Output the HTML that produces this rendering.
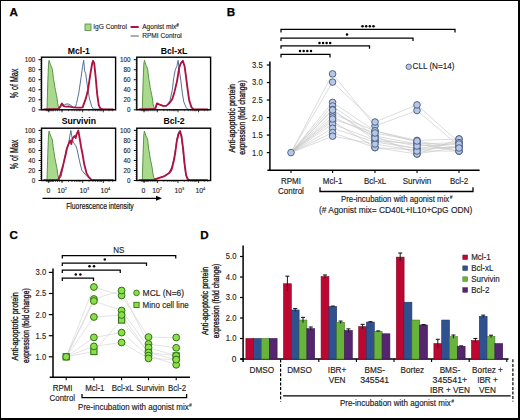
<!DOCTYPE html>
<html><head><meta charset="utf-8"><style>
html,body{margin:0;padding:0;background:#fff;}
svg{display:block;font-family:"Liberation Sans", sans-serif;}
</style></head><body>
<svg width="520" height="420" viewBox="0 0 520 420">
<rect x="0" y="0" width="520" height="420" fill="#000"/>
<rect x="1" y="1" width="517" height="417" fill="#fff"/>
<text x="9.4" y="16.1" font-size="11.6" text-anchor="start" font-weight="bold" fill="#000" stroke="#000" stroke-width="0.25" >A</text>
<text x="226.8" y="16.2" font-size="11.6" text-anchor="start" font-weight="bold" fill="#000" stroke="#000" stroke-width="0.25" >B</text>
<text x="9.5" y="239.1" font-size="11.6" text-anchor="start" font-weight="bold" fill="#000" stroke="#000" stroke-width="0.25" >C</text>
<text x="200.3" y="239.0" font-size="11.6" text-anchor="start" font-weight="bold" fill="#000" stroke="#000" stroke-width="0.25" >D</text>
<rect x="85" y="24" width="6" height="6.4" fill="#a8d98c" stroke="#4e8a3a" stroke-width="0.8"/>
<text x="93.2" y="29.4" font-size="6.6" text-anchor="start" font-weight="normal" fill="#222" stroke="#222" stroke-width="0.12" >IgG Control</text>
<line x1="130.6" y1="27" x2="138.7" y2="27" stroke="#ad1240" stroke-width="2" />
<text x="142.2" y="29.4" font-size="6.6" text-anchor="start" font-weight="normal" fill="#222" stroke="#222" stroke-width="0.12" >Agonist mix<tspan font-size="4.6" dy="-2.6" font-weight="bold">#</tspan></text>
<line x1="130.6" y1="36" x2="138.7" y2="36" stroke="#8c92a2" stroke-width="1.5" />
<text x="142.2" y="38.4" font-size="6.6" text-anchor="start" font-weight="normal" fill="#222" stroke="#222" stroke-width="0.12" >RPMI Control</text>
<path d="M47.0,109.4 L47.8,81.8 L48.5,64.3 L49.1,60.3 L49.9,62.8 L50.7,65.3 L51.5,66.8 L52.4,69.3 L53.4,78.3 L53.9,80.8 L54.9,87.4 L55.5,90.4 L56.5,95.4 L57.0,97.9 L57.7,103.4 L58.5,106.9 L59.8,109.4 Z" fill="#a8d98c" stroke="none"/>
<path d="M47.0,109.4 L47.8,81.8 L48.5,64.3 L49.1,60.3 L49.9,62.8 L50.7,65.3 L51.5,66.8 L52.4,69.3 L53.4,78.3 L53.9,80.8 L54.9,87.4 L55.5,90.4 L56.5,95.4 L57.0,97.9 L57.7,103.4 L58.5,106.9 L59.8,109.4" fill="none" stroke="#4e8a3a" stroke-width="0.9"/>
<path d="M43.5,109.4 L58.5,108.9 L60.0,106.4 L61.1,104.4 L62.5,103.9 L64.5,104.9 L66.0,104.1 L68.0,103.9 L71.1,105.4 L73.4,107.4 L75.5,106.9 L76.5,103.5 L78.8,92.9 L81.1,77.3 L82.6,66.3 L83.7,60.3 L84.6,70.8 L85.7,73.3 L87.2,84.9 L89.5,98.9 L91.8,106.6 L93.4,109.1 L113.5,109.4" fill="none" stroke="#42618f" stroke-width="0.9" stroke-linejoin="round"/>
<path d="M43.5,109.4 L58.5,108.9 L60.5,106.4 L61.8,103.4 L63.0,105.4 L64.5,106.4 L66.5,106.6 L68.5,106.4 L70.5,106.9 L73.5,107.4 L77.5,107.6 L80.5,107.6 L82.6,107.4 L85.7,98.9 L88.0,89.9 L90.3,74.3 L92.2,63.3 L93.1,60.8 L94.2,63.3 L95.7,77.3 L97.2,94.4 L98.8,105.4 L100.3,108.4 L102.5,109.4 L113.5,109.4" fill="none" stroke="#ad1240" stroke-width="1.85" stroke-linejoin="round"/>
<rect x="41.5" y="57.2" width="74.1" height="52.6" fill="none" stroke="#000" stroke-width="1.4"/>
<line x1="38.5" y1="59.699999999999996" x2="41.5" y2="59.699999999999996" stroke="#000" stroke-width="1.0" />
<line x1="40.1" y1="61.70399999999999" x2="41.5" y2="61.70399999999999" stroke="#000" stroke-width="0.5" />
<line x1="40.1" y1="63.708" x2="41.5" y2="63.708" stroke="#000" stroke-width="0.5" />
<line x1="40.1" y1="65.71199999999999" x2="41.5" y2="65.71199999999999" stroke="#000" stroke-width="0.5" />
<line x1="40.1" y1="67.716" x2="41.5" y2="67.716" stroke="#000" stroke-width="0.5" />
<text x="35.2" y="61.9" font-size="6.3" text-anchor="end" font-weight="normal" fill="#222" stroke="#222" stroke-width="0.12" >100</text>
<line x1="38.5" y1="69.72" x2="41.5" y2="69.72" stroke="#000" stroke-width="1.0" />
<line x1="40.1" y1="71.72399999999999" x2="41.5" y2="71.72399999999999" stroke="#000" stroke-width="0.5" />
<line x1="40.1" y1="73.728" x2="41.5" y2="73.728" stroke="#000" stroke-width="0.5" />
<line x1="40.1" y1="75.732" x2="41.5" y2="75.732" stroke="#000" stroke-width="0.5" />
<line x1="40.1" y1="77.73599999999999" x2="41.5" y2="77.73599999999999" stroke="#000" stroke-width="0.5" />
<text x="35.2" y="71.92" font-size="6.3" text-anchor="end" font-weight="normal" fill="#222" stroke="#222" stroke-width="0.12" >80</text>
<line x1="38.5" y1="79.74" x2="41.5" y2="79.74" stroke="#000" stroke-width="1.0" />
<line x1="40.1" y1="81.744" x2="41.5" y2="81.744" stroke="#000" stroke-width="0.5" />
<line x1="40.1" y1="83.74799999999999" x2="41.5" y2="83.74799999999999" stroke="#000" stroke-width="0.5" />
<line x1="40.1" y1="85.752" x2="41.5" y2="85.752" stroke="#000" stroke-width="0.5" />
<line x1="40.1" y1="87.756" x2="41.5" y2="87.756" stroke="#000" stroke-width="0.5" />
<text x="35.2" y="81.94" font-size="6.3" text-anchor="end" font-weight="normal" fill="#222" stroke="#222" stroke-width="0.12" >60</text>
<line x1="38.5" y1="89.75999999999999" x2="41.5" y2="89.75999999999999" stroke="#000" stroke-width="1.0" />
<line x1="40.1" y1="91.764" x2="41.5" y2="91.764" stroke="#000" stroke-width="0.5" />
<line x1="40.1" y1="93.768" x2="41.5" y2="93.768" stroke="#000" stroke-width="0.5" />
<line x1="40.1" y1="95.77199999999999" x2="41.5" y2="95.77199999999999" stroke="#000" stroke-width="0.5" />
<line x1="40.1" y1="97.776" x2="41.5" y2="97.776" stroke="#000" stroke-width="0.5" />
<text x="35.2" y="91.96" font-size="6.3" text-anchor="end" font-weight="normal" fill="#222" stroke="#222" stroke-width="0.12" >40</text>
<line x1="38.5" y1="99.78" x2="41.5" y2="99.78" stroke="#000" stroke-width="1.0" />
<line x1="40.1" y1="101.78399999999999" x2="41.5" y2="101.78399999999999" stroke="#000" stroke-width="0.5" />
<line x1="40.1" y1="103.788" x2="41.5" y2="103.788" stroke="#000" stroke-width="0.5" />
<line x1="40.1" y1="105.792" x2="41.5" y2="105.792" stroke="#000" stroke-width="0.5" />
<line x1="40.1" y1="107.79599999999999" x2="41.5" y2="107.79599999999999" stroke="#000" stroke-width="0.5" />
<text x="35.2" y="101.98" font-size="6.3" text-anchor="end" font-weight="normal" fill="#222" stroke="#222" stroke-width="0.12" >20</text>
<line x1="38.5" y1="109.8" x2="41.5" y2="109.8" stroke="#000" stroke-width="1.0" />
<text x="35.2" y="112.0" font-size="6.3" text-anchor="end" font-weight="normal" fill="#222" stroke="#222" stroke-width="0.12" >0</text>
<line x1="46.5" y1="109.8" x2="46.5" y2="111.3" stroke="#000" stroke-width="0.5" />
<line x1="47.5" y1="109.8" x2="47.5" y2="111.3" stroke="#000" stroke-width="0.5" />
<line x1="48.5" y1="109.8" x2="48.5" y2="111.3" stroke="#000" stroke-width="0.5" />
<line x1="49.5" y1="109.8" x2="49.5" y2="111.3" stroke="#000" stroke-width="0.5" />
<line x1="50.5" y1="109.8" x2="50.5" y2="111.3" stroke="#000" stroke-width="0.5" />
<line x1="51.5" y1="109.8" x2="51.5" y2="111.3" stroke="#000" stroke-width="0.5" />
<line x1="52.5" y1="109.8" x2="52.5" y2="111.3" stroke="#000" stroke-width="0.5" />
<line x1="53.5" y1="109.8" x2="53.5" y2="111.3" stroke="#000" stroke-width="0.5" />
<line x1="55.5" y1="109.8" x2="55.5" y2="111.3" stroke="#000" stroke-width="0.5" />
<line x1="57.5" y1="109.8" x2="57.5" y2="111.3" stroke="#000" stroke-width="0.5" />
<line x1="59.5" y1="109.8" x2="59.5" y2="111.3" stroke="#000" stroke-width="0.5" />
<line x1="62.0" y1="109.8" x2="62.0" y2="111.3" stroke="#000" stroke-width="0.5" />
<line x1="68.5" y1="109.8" x2="68.5" y2="111.3" stroke="#000" stroke-width="0.5" />
<line x1="72.0" y1="109.8" x2="72.0" y2="111.3" stroke="#000" stroke-width="0.5" />
<line x1="74.5" y1="109.8" x2="74.5" y2="111.3" stroke="#000" stroke-width="0.5" />
<line x1="76.5" y1="109.8" x2="76.5" y2="111.3" stroke="#000" stroke-width="0.5" />
<line x1="78.0" y1="109.8" x2="78.0" y2="111.3" stroke="#000" stroke-width="0.5" />
<line x1="79.5" y1="109.8" x2="79.5" y2="111.3" stroke="#000" stroke-width="0.5" />
<line x1="80.8" y1="109.8" x2="80.8" y2="111.3" stroke="#000" stroke-width="0.5" />
<line x1="89.0" y1="109.8" x2="89.0" y2="111.3" stroke="#000" stroke-width="0.5" />
<line x1="93.0" y1="109.8" x2="93.0" y2="111.3" stroke="#000" stroke-width="0.5" />
<line x1="95.5" y1="109.8" x2="95.5" y2="111.3" stroke="#000" stroke-width="0.5" />
<line x1="97.5" y1="109.8" x2="97.5" y2="111.3" stroke="#000" stroke-width="0.5" />
<line x1="99.0" y1="109.8" x2="99.0" y2="111.3" stroke="#000" stroke-width="0.5" />
<line x1="100.3" y1="109.8" x2="100.3" y2="111.3" stroke="#000" stroke-width="0.5" />
<line x1="101.5" y1="109.8" x2="101.5" y2="111.3" stroke="#000" stroke-width="0.5" />
<line x1="109.0" y1="109.8" x2="109.0" y2="111.3" stroke="#000" stroke-width="0.5" />
<line x1="112.5" y1="109.8" x2="112.5" y2="111.3" stroke="#000" stroke-width="0.5" />
<line x1="48.75" y1="109.8" x2="48.75" y2="112.3" stroke="#000" stroke-width="0.8" />
<line x1="62.0" y1="109.8" x2="62.0" y2="112.3" stroke="#000" stroke-width="0.8" />
<line x1="82.7" y1="109.8" x2="82.7" y2="112.3" stroke="#000" stroke-width="0.8" />
<line x1="103.3" y1="109.8" x2="103.3" y2="112.3" stroke="#000" stroke-width="0.8" />
<text x="78.85" y="53.7" font-size="8.7" text-anchor="middle" font-weight="bold" fill="#000" >Mcl-1</text>
<path d="M142.3,109.4 L143.1,81.8 L143.8,64.3 L144.4,60.3 L145.2,62.8 L146.0,65.3 L146.8,66.8 L147.7,69.3 L148.7,78.3 L149.2,80.8 L150.2,87.4 L150.8,90.4 L151.8,95.4 L152.3,97.9 L153.0,103.4 L153.8,106.9 L155.1,109.4 Z" fill="#a8d98c" stroke="none"/>
<path d="M142.3,109.4 L143.1,81.8 L143.8,64.3 L144.4,60.3 L145.2,62.8 L146.0,65.3 L146.8,66.8 L147.7,69.3 L148.7,78.3 L149.2,80.8 L150.2,87.4 L150.8,90.4 L151.8,95.4 L152.3,97.9 L153.0,103.4 L153.8,106.9 L155.1,109.4" fill="none" stroke="#4e8a3a" stroke-width="0.9"/>
<path d="M138.8,109.4 L153.8,108.9 L155.4,108.4 L156.9,103.4 L159.2,104.4 L163.1,105.9 L166.1,105.9 L167.7,104.4 L170.0,100.4 L172.3,89.9 L173.8,77.3 L175.4,69.3 L176.9,66.3 L178.1,60.3 L179.2,69.3 L180.8,80.3 L182.3,92.9 L183.8,101.9 L186.1,107.4 L187.8,109.4 L207.8,109.4" fill="none" stroke="#42618f" stroke-width="0.9" stroke-linejoin="round"/>
<path d="M138.8,109.4 L153.8,108.9 L155.4,108.4 L156.9,103.4 L159.2,104.4 L163.1,105.9 L166.1,105.9 L169.2,103.4 L172.3,98.9 L174.6,91.4 L176.9,81.8 L179.2,67.8 L180.8,63.3 L182.8,60.8 L184.6,66.3 L186.1,77.3 L187.7,89.9 L189.2,100.4 L191.5,107.4 L193.8,109.4 L207.8,109.4" fill="none" stroke="#ad1240" stroke-width="1.85" stroke-linejoin="round"/>
<rect x="136.8" y="57.2" width="73.8" height="52.6" fill="none" stroke="#000" stroke-width="1.4"/>
<line x1="133.8" y1="59.699999999999996" x2="136.8" y2="59.699999999999996" stroke="#000" stroke-width="1.0" />
<line x1="135.4" y1="61.70399999999999" x2="136.8" y2="61.70399999999999" stroke="#000" stroke-width="0.5" />
<line x1="135.4" y1="63.708" x2="136.8" y2="63.708" stroke="#000" stroke-width="0.5" />
<line x1="135.4" y1="65.71199999999999" x2="136.8" y2="65.71199999999999" stroke="#000" stroke-width="0.5" />
<line x1="135.4" y1="67.716" x2="136.8" y2="67.716" stroke="#000" stroke-width="0.5" />
<text x="130.5" y="61.9" font-size="6.3" text-anchor="end" font-weight="normal" fill="#222" stroke="#222" stroke-width="0.12" >100</text>
<line x1="133.8" y1="69.72" x2="136.8" y2="69.72" stroke="#000" stroke-width="1.0" />
<line x1="135.4" y1="71.72399999999999" x2="136.8" y2="71.72399999999999" stroke="#000" stroke-width="0.5" />
<line x1="135.4" y1="73.728" x2="136.8" y2="73.728" stroke="#000" stroke-width="0.5" />
<line x1="135.4" y1="75.732" x2="136.8" y2="75.732" stroke="#000" stroke-width="0.5" />
<line x1="135.4" y1="77.73599999999999" x2="136.8" y2="77.73599999999999" stroke="#000" stroke-width="0.5" />
<text x="130.5" y="71.92" font-size="6.3" text-anchor="end" font-weight="normal" fill="#222" stroke="#222" stroke-width="0.12" >80</text>
<line x1="133.8" y1="79.74" x2="136.8" y2="79.74" stroke="#000" stroke-width="1.0" />
<line x1="135.4" y1="81.744" x2="136.8" y2="81.744" stroke="#000" stroke-width="0.5" />
<line x1="135.4" y1="83.74799999999999" x2="136.8" y2="83.74799999999999" stroke="#000" stroke-width="0.5" />
<line x1="135.4" y1="85.752" x2="136.8" y2="85.752" stroke="#000" stroke-width="0.5" />
<line x1="135.4" y1="87.756" x2="136.8" y2="87.756" stroke="#000" stroke-width="0.5" />
<text x="130.5" y="81.94" font-size="6.3" text-anchor="end" font-weight="normal" fill="#222" stroke="#222" stroke-width="0.12" >60</text>
<line x1="133.8" y1="89.75999999999999" x2="136.8" y2="89.75999999999999" stroke="#000" stroke-width="1.0" />
<line x1="135.4" y1="91.764" x2="136.8" y2="91.764" stroke="#000" stroke-width="0.5" />
<line x1="135.4" y1="93.768" x2="136.8" y2="93.768" stroke="#000" stroke-width="0.5" />
<line x1="135.4" y1="95.77199999999999" x2="136.8" y2="95.77199999999999" stroke="#000" stroke-width="0.5" />
<line x1="135.4" y1="97.776" x2="136.8" y2="97.776" stroke="#000" stroke-width="0.5" />
<text x="130.5" y="91.96" font-size="6.3" text-anchor="end" font-weight="normal" fill="#222" stroke="#222" stroke-width="0.12" >40</text>
<line x1="133.8" y1="99.78" x2="136.8" y2="99.78" stroke="#000" stroke-width="1.0" />
<line x1="135.4" y1="101.78399999999999" x2="136.8" y2="101.78399999999999" stroke="#000" stroke-width="0.5" />
<line x1="135.4" y1="103.788" x2="136.8" y2="103.788" stroke="#000" stroke-width="0.5" />
<line x1="135.4" y1="105.792" x2="136.8" y2="105.792" stroke="#000" stroke-width="0.5" />
<line x1="135.4" y1="107.79599999999999" x2="136.8" y2="107.79599999999999" stroke="#000" stroke-width="0.5" />
<text x="130.5" y="101.98" font-size="6.3" text-anchor="end" font-weight="normal" fill="#222" stroke="#222" stroke-width="0.12" >20</text>
<line x1="133.8" y1="109.8" x2="136.8" y2="109.8" stroke="#000" stroke-width="1.0" />
<text x="130.5" y="112.0" font-size="6.3" text-anchor="end" font-weight="normal" fill="#222" stroke="#222" stroke-width="0.12" >0</text>
<line x1="141.8" y1="109.8" x2="141.8" y2="111.3" stroke="#000" stroke-width="0.5" />
<line x1="142.8" y1="109.8" x2="142.8" y2="111.3" stroke="#000" stroke-width="0.5" />
<line x1="143.8" y1="109.8" x2="143.8" y2="111.3" stroke="#000" stroke-width="0.5" />
<line x1="144.8" y1="109.8" x2="144.8" y2="111.3" stroke="#000" stroke-width="0.5" />
<line x1="145.8" y1="109.8" x2="145.8" y2="111.3" stroke="#000" stroke-width="0.5" />
<line x1="146.8" y1="109.8" x2="146.8" y2="111.3" stroke="#000" stroke-width="0.5" />
<line x1="147.8" y1="109.8" x2="147.8" y2="111.3" stroke="#000" stroke-width="0.5" />
<line x1="148.8" y1="109.8" x2="148.8" y2="111.3" stroke="#000" stroke-width="0.5" />
<line x1="150.8" y1="109.8" x2="150.8" y2="111.3" stroke="#000" stroke-width="0.5" />
<line x1="152.8" y1="109.8" x2="152.8" y2="111.3" stroke="#000" stroke-width="0.5" />
<line x1="154.8" y1="109.8" x2="154.8" y2="111.3" stroke="#000" stroke-width="0.5" />
<line x1="157.3" y1="109.8" x2="157.3" y2="111.3" stroke="#000" stroke-width="0.5" />
<line x1="163.8" y1="109.8" x2="163.8" y2="111.3" stroke="#000" stroke-width="0.5" />
<line x1="167.3" y1="109.8" x2="167.3" y2="111.3" stroke="#000" stroke-width="0.5" />
<line x1="169.8" y1="109.8" x2="169.8" y2="111.3" stroke="#000" stroke-width="0.5" />
<line x1="171.8" y1="109.8" x2="171.8" y2="111.3" stroke="#000" stroke-width="0.5" />
<line x1="173.3" y1="109.8" x2="173.3" y2="111.3" stroke="#000" stroke-width="0.5" />
<line x1="174.8" y1="109.8" x2="174.8" y2="111.3" stroke="#000" stroke-width="0.5" />
<line x1="176.10000000000002" y1="109.8" x2="176.10000000000002" y2="111.3" stroke="#000" stroke-width="0.5" />
<line x1="184.3" y1="109.8" x2="184.3" y2="111.3" stroke="#000" stroke-width="0.5" />
<line x1="188.3" y1="109.8" x2="188.3" y2="111.3" stroke="#000" stroke-width="0.5" />
<line x1="190.8" y1="109.8" x2="190.8" y2="111.3" stroke="#000" stroke-width="0.5" />
<line x1="192.8" y1="109.8" x2="192.8" y2="111.3" stroke="#000" stroke-width="0.5" />
<line x1="194.3" y1="109.8" x2="194.3" y2="111.3" stroke="#000" stroke-width="0.5" />
<line x1="195.60000000000002" y1="109.8" x2="195.60000000000002" y2="111.3" stroke="#000" stroke-width="0.5" />
<line x1="196.8" y1="109.8" x2="196.8" y2="111.3" stroke="#000" stroke-width="0.5" />
<line x1="204.3" y1="109.8" x2="204.3" y2="111.3" stroke="#000" stroke-width="0.5" />
<line x1="207.8" y1="109.8" x2="207.8" y2="111.3" stroke="#000" stroke-width="0.5" />
<line x1="144.05" y1="109.8" x2="144.05" y2="112.3" stroke="#000" stroke-width="0.8" />
<line x1="157.3" y1="109.8" x2="157.3" y2="112.3" stroke="#000" stroke-width="0.8" />
<line x1="178.0" y1="109.8" x2="178.0" y2="112.3" stroke="#000" stroke-width="0.8" />
<line x1="198.60000000000002" y1="109.8" x2="198.60000000000002" y2="112.3" stroke="#000" stroke-width="0.8" />
<text x="174.0" y="53.7" font-size="8.7" text-anchor="middle" font-weight="bold" fill="#000" >Bcl-xL</text>
<path d="M47.0,180.1 L47.8,152.5 L48.5,135.0 L49.1,131.0 L49.9,133.5 L50.7,136.0 L51.5,137.5 L52.4,140.0 L53.4,149.0 L53.9,151.5 L54.9,158.1 L55.5,161.1 L56.5,166.1 L57.0,168.6 L57.7,174.1 L58.5,177.6 L59.8,180.1 Z" fill="#a8d98c" stroke="none"/>
<path d="M47.0,180.1 L47.8,152.5 L48.5,135.0 L49.1,131.0 L49.9,133.5 L50.7,136.0 L51.5,137.5 L52.4,140.0 L53.4,149.0 L53.9,151.5 L54.9,158.1 L55.5,161.1 L56.5,166.1 L57.0,168.6 L57.7,174.1 L58.5,177.6 L59.8,180.1" fill="none" stroke="#4e8a3a" stroke-width="0.9"/>
<path d="M43.5,180.1 L57.5,180.1 L59.0,179.1 L61.1,176.6 L62.5,170.1 L64.2,159.6 L65.7,152.0 L67.2,147.0 L68.8,142.5 L69.8,136.0 L70.8,130.5 L71.8,136.0 L72.6,140.5 L74.2,143.5 L75.7,145.5 L77.2,150.0 L79.5,161.1 L81.8,170.1 L84.2,173.1 L87.2,176.6 L90.3,179.1 L92.5,180.1 L113.5,180.1" fill="none" stroke="#42618f" stroke-width="0.9" stroke-linejoin="round"/>
<path d="M43.5,180.1 L58.0,180.1 L60.3,175.1 L62.6,167.1 L64.1,161.1 L65.7,154.5 L66.8,149.0 L68.0,145.5 L69.0,143.0 L70.3,140.5 L71.3,144.0 L72.6,138.5 L73.8,137.0 L74.9,136.0 L75.7,138.0 L76.5,134.5 L77.5,132.5 L78.3,130.5 L78.9,134.0 L79.5,137.5 L80.3,142.0 L81.1,147.0 L82.6,154.5 L84.2,164.1 L86.5,173.1 L88.8,177.1 L91.8,180.1 L113.5,180.1" fill="none" stroke="#ad1240" stroke-width="1.85" stroke-linejoin="round"/>
<rect x="41.5" y="128.2" width="74.1" height="52.3" fill="none" stroke="#000" stroke-width="1.4"/>
<line x1="38.5" y1="130.4" x2="41.5" y2="130.4" stroke="#000" stroke-width="1.0" />
<line x1="40.1" y1="132.404" x2="41.5" y2="132.404" stroke="#000" stroke-width="0.5" />
<line x1="40.1" y1="134.40800000000002" x2="41.5" y2="134.40800000000002" stroke="#000" stroke-width="0.5" />
<line x1="40.1" y1="136.412" x2="41.5" y2="136.412" stroke="#000" stroke-width="0.5" />
<line x1="40.1" y1="138.416" x2="41.5" y2="138.416" stroke="#000" stroke-width="0.5" />
<text x="35.2" y="132.6" font-size="6.3" text-anchor="end" font-weight="normal" fill="#222" stroke="#222" stroke-width="0.12" >100</text>
<line x1="38.5" y1="140.42000000000002" x2="41.5" y2="140.42000000000002" stroke="#000" stroke-width="1.0" />
<line x1="40.1" y1="142.424" x2="41.5" y2="142.424" stroke="#000" stroke-width="0.5" />
<line x1="40.1" y1="144.428" x2="41.5" y2="144.428" stroke="#000" stroke-width="0.5" />
<line x1="40.1" y1="146.43200000000002" x2="41.5" y2="146.43200000000002" stroke="#000" stroke-width="0.5" />
<line x1="40.1" y1="148.436" x2="41.5" y2="148.436" stroke="#000" stroke-width="0.5" />
<text x="35.2" y="142.62" font-size="6.3" text-anchor="end" font-weight="normal" fill="#222" stroke="#222" stroke-width="0.12" >80</text>
<line x1="38.5" y1="150.44" x2="41.5" y2="150.44" stroke="#000" stroke-width="1.0" />
<line x1="40.1" y1="152.444" x2="41.5" y2="152.444" stroke="#000" stroke-width="0.5" />
<line x1="40.1" y1="154.448" x2="41.5" y2="154.448" stroke="#000" stroke-width="0.5" />
<line x1="40.1" y1="156.452" x2="41.5" y2="156.452" stroke="#000" stroke-width="0.5" />
<line x1="40.1" y1="158.456" x2="41.5" y2="158.456" stroke="#000" stroke-width="0.5" />
<text x="35.2" y="152.64" font-size="6.3" text-anchor="end" font-weight="normal" fill="#222" stroke="#222" stroke-width="0.12" >60</text>
<line x1="38.5" y1="160.46" x2="41.5" y2="160.46" stroke="#000" stroke-width="1.0" />
<line x1="40.1" y1="162.464" x2="41.5" y2="162.464" stroke="#000" stroke-width="0.5" />
<line x1="40.1" y1="164.468" x2="41.5" y2="164.468" stroke="#000" stroke-width="0.5" />
<line x1="40.1" y1="166.472" x2="41.5" y2="166.472" stroke="#000" stroke-width="0.5" />
<line x1="40.1" y1="168.476" x2="41.5" y2="168.476" stroke="#000" stroke-width="0.5" />
<text x="35.2" y="162.66" font-size="6.3" text-anchor="end" font-weight="normal" fill="#222" stroke="#222" stroke-width="0.12" >40</text>
<line x1="38.5" y1="170.48" x2="41.5" y2="170.48" stroke="#000" stroke-width="1.0" />
<line x1="40.1" y1="172.484" x2="41.5" y2="172.484" stroke="#000" stroke-width="0.5" />
<line x1="40.1" y1="174.488" x2="41.5" y2="174.488" stroke="#000" stroke-width="0.5" />
<line x1="40.1" y1="176.492" x2="41.5" y2="176.492" stroke="#000" stroke-width="0.5" />
<line x1="40.1" y1="178.496" x2="41.5" y2="178.496" stroke="#000" stroke-width="0.5" />
<text x="35.2" y="172.67999999999998" font-size="6.3" text-anchor="end" font-weight="normal" fill="#222" stroke="#222" stroke-width="0.12" >20</text>
<line x1="38.5" y1="180.5" x2="41.5" y2="180.5" stroke="#000" stroke-width="1.0" />
<text x="35.2" y="182.7" font-size="6.3" text-anchor="end" font-weight="normal" fill="#222" stroke="#222" stroke-width="0.12" >0</text>
<line x1="46.5" y1="180.5" x2="46.5" y2="182.0" stroke="#000" stroke-width="0.5" />
<line x1="47.5" y1="180.5" x2="47.5" y2="182.0" stroke="#000" stroke-width="0.5" />
<line x1="48.5" y1="180.5" x2="48.5" y2="182.0" stroke="#000" stroke-width="0.5" />
<line x1="49.5" y1="180.5" x2="49.5" y2="182.0" stroke="#000" stroke-width="0.5" />
<line x1="50.5" y1="180.5" x2="50.5" y2="182.0" stroke="#000" stroke-width="0.5" />
<line x1="51.5" y1="180.5" x2="51.5" y2="182.0" stroke="#000" stroke-width="0.5" />
<line x1="52.5" y1="180.5" x2="52.5" y2="182.0" stroke="#000" stroke-width="0.5" />
<line x1="53.5" y1="180.5" x2="53.5" y2="182.0" stroke="#000" stroke-width="0.5" />
<line x1="55.5" y1="180.5" x2="55.5" y2="182.0" stroke="#000" stroke-width="0.5" />
<line x1="57.5" y1="180.5" x2="57.5" y2="182.0" stroke="#000" stroke-width="0.5" />
<line x1="59.5" y1="180.5" x2="59.5" y2="182.0" stroke="#000" stroke-width="0.5" />
<line x1="62.0" y1="180.5" x2="62.0" y2="182.0" stroke="#000" stroke-width="0.5" />
<line x1="68.5" y1="180.5" x2="68.5" y2="182.0" stroke="#000" stroke-width="0.5" />
<line x1="72.0" y1="180.5" x2="72.0" y2="182.0" stroke="#000" stroke-width="0.5" />
<line x1="74.5" y1="180.5" x2="74.5" y2="182.0" stroke="#000" stroke-width="0.5" />
<line x1="76.5" y1="180.5" x2="76.5" y2="182.0" stroke="#000" stroke-width="0.5" />
<line x1="78.0" y1="180.5" x2="78.0" y2="182.0" stroke="#000" stroke-width="0.5" />
<line x1="79.5" y1="180.5" x2="79.5" y2="182.0" stroke="#000" stroke-width="0.5" />
<line x1="80.8" y1="180.5" x2="80.8" y2="182.0" stroke="#000" stroke-width="0.5" />
<line x1="89.0" y1="180.5" x2="89.0" y2="182.0" stroke="#000" stroke-width="0.5" />
<line x1="93.0" y1="180.5" x2="93.0" y2="182.0" stroke="#000" stroke-width="0.5" />
<line x1="95.5" y1="180.5" x2="95.5" y2="182.0" stroke="#000" stroke-width="0.5" />
<line x1="97.5" y1="180.5" x2="97.5" y2="182.0" stroke="#000" stroke-width="0.5" />
<line x1="99.0" y1="180.5" x2="99.0" y2="182.0" stroke="#000" stroke-width="0.5" />
<line x1="100.3" y1="180.5" x2="100.3" y2="182.0" stroke="#000" stroke-width="0.5" />
<line x1="101.5" y1="180.5" x2="101.5" y2="182.0" stroke="#000" stroke-width="0.5" />
<line x1="109.0" y1="180.5" x2="109.0" y2="182.0" stroke="#000" stroke-width="0.5" />
<line x1="112.5" y1="180.5" x2="112.5" y2="182.0" stroke="#000" stroke-width="0.5" />
<line x1="48.75" y1="180.5" x2="48.75" y2="183.0" stroke="#000" stroke-width="0.8" />
<line x1="62.0" y1="180.5" x2="62.0" y2="183.0" stroke="#000" stroke-width="0.8" />
<line x1="82.7" y1="180.5" x2="82.7" y2="183.0" stroke="#000" stroke-width="0.8" />
<line x1="103.3" y1="180.5" x2="103.3" y2="183.0" stroke="#000" stroke-width="0.8" />
<text x="78.85" y="123.5" font-size="8.7" text-anchor="middle" font-weight="bold" fill="#000" >Survivin</text>
<path d="M142.3,180.1 L143.1,152.5 L143.8,135.0 L144.4,131.0 L145.2,133.5 L146.0,136.0 L146.8,137.5 L147.7,140.0 L148.7,149.0 L149.2,151.5 L150.2,158.1 L150.8,161.1 L151.8,166.1 L152.3,168.6 L153.0,174.1 L153.8,177.6 L155.1,180.1 Z" fill="#a8d98c" stroke="none"/>
<path d="M142.3,180.1 L143.1,152.5 L143.8,135.0 L144.4,131.0 L145.2,133.5 L146.0,136.0 L146.8,137.5 L147.7,140.0 L148.7,149.0 L149.2,151.5 L150.2,158.1 L150.8,161.1 L151.8,166.1 L152.3,168.6 L153.0,174.1 L153.8,177.6 L155.1,180.1" fill="none" stroke="#4e8a3a" stroke-width="0.9"/>
<path d="M138.8,180.1 L153.8,180.1 L155.4,179.1 L160.0,177.6 L164.6,176.1 L167.3,174.6 L169.2,172.1 L171.3,168.1 L172.3,165.1 L174.1,157.6 L175.4,150.0 L176.9,139.0 L178.0,133.5 L179.5,131.0 L181.0,136.0 L182.5,146.0 L184.1,161.1 L185.6,173.1 L187.1,178.6 L188.8,180.1 L207.8,180.1" fill="none" stroke="#42618f" stroke-width="0.9" stroke-linejoin="round"/>
<path d="M138.8,180.1 L153.8,180.1 L155.4,179.1 L160.0,177.6 L164.6,176.1 L169.2,173.1 L171.3,170.1 L172.3,167.1 L174.1,159.6 L175.4,151.5 L176.9,140.5 L178.5,134.5 L180.0,131.0 L181.5,136.0 L183.1,148.5 L184.6,164.1 L186.1,175.1 L187.7,179.1 L189.3,180.1 L207.8,180.1" fill="none" stroke="#ad1240" stroke-width="1.85" stroke-linejoin="round"/>
<rect x="136.8" y="128.2" width="73.8" height="52.3" fill="none" stroke="#000" stroke-width="1.4"/>
<line x1="133.8" y1="130.4" x2="136.8" y2="130.4" stroke="#000" stroke-width="1.0" />
<line x1="135.4" y1="132.404" x2="136.8" y2="132.404" stroke="#000" stroke-width="0.5" />
<line x1="135.4" y1="134.40800000000002" x2="136.8" y2="134.40800000000002" stroke="#000" stroke-width="0.5" />
<line x1="135.4" y1="136.412" x2="136.8" y2="136.412" stroke="#000" stroke-width="0.5" />
<line x1="135.4" y1="138.416" x2="136.8" y2="138.416" stroke="#000" stroke-width="0.5" />
<text x="130.5" y="132.6" font-size="6.3" text-anchor="end" font-weight="normal" fill="#222" stroke="#222" stroke-width="0.12" >100</text>
<line x1="133.8" y1="140.42000000000002" x2="136.8" y2="140.42000000000002" stroke="#000" stroke-width="1.0" />
<line x1="135.4" y1="142.424" x2="136.8" y2="142.424" stroke="#000" stroke-width="0.5" />
<line x1="135.4" y1="144.428" x2="136.8" y2="144.428" stroke="#000" stroke-width="0.5" />
<line x1="135.4" y1="146.43200000000002" x2="136.8" y2="146.43200000000002" stroke="#000" stroke-width="0.5" />
<line x1="135.4" y1="148.436" x2="136.8" y2="148.436" stroke="#000" stroke-width="0.5" />
<text x="130.5" y="142.62" font-size="6.3" text-anchor="end" font-weight="normal" fill="#222" stroke="#222" stroke-width="0.12" >80</text>
<line x1="133.8" y1="150.44" x2="136.8" y2="150.44" stroke="#000" stroke-width="1.0" />
<line x1="135.4" y1="152.444" x2="136.8" y2="152.444" stroke="#000" stroke-width="0.5" />
<line x1="135.4" y1="154.448" x2="136.8" y2="154.448" stroke="#000" stroke-width="0.5" />
<line x1="135.4" y1="156.452" x2="136.8" y2="156.452" stroke="#000" stroke-width="0.5" />
<line x1="135.4" y1="158.456" x2="136.8" y2="158.456" stroke="#000" stroke-width="0.5" />
<text x="130.5" y="152.64" font-size="6.3" text-anchor="end" font-weight="normal" fill="#222" stroke="#222" stroke-width="0.12" >60</text>
<line x1="133.8" y1="160.46" x2="136.8" y2="160.46" stroke="#000" stroke-width="1.0" />
<line x1="135.4" y1="162.464" x2="136.8" y2="162.464" stroke="#000" stroke-width="0.5" />
<line x1="135.4" y1="164.468" x2="136.8" y2="164.468" stroke="#000" stroke-width="0.5" />
<line x1="135.4" y1="166.472" x2="136.8" y2="166.472" stroke="#000" stroke-width="0.5" />
<line x1="135.4" y1="168.476" x2="136.8" y2="168.476" stroke="#000" stroke-width="0.5" />
<text x="130.5" y="162.66" font-size="6.3" text-anchor="end" font-weight="normal" fill="#222" stroke="#222" stroke-width="0.12" >40</text>
<line x1="133.8" y1="170.48" x2="136.8" y2="170.48" stroke="#000" stroke-width="1.0" />
<line x1="135.4" y1="172.484" x2="136.8" y2="172.484" stroke="#000" stroke-width="0.5" />
<line x1="135.4" y1="174.488" x2="136.8" y2="174.488" stroke="#000" stroke-width="0.5" />
<line x1="135.4" y1="176.492" x2="136.8" y2="176.492" stroke="#000" stroke-width="0.5" />
<line x1="135.4" y1="178.496" x2="136.8" y2="178.496" stroke="#000" stroke-width="0.5" />
<text x="130.5" y="172.67999999999998" font-size="6.3" text-anchor="end" font-weight="normal" fill="#222" stroke="#222" stroke-width="0.12" >20</text>
<line x1="133.8" y1="180.5" x2="136.8" y2="180.5" stroke="#000" stroke-width="1.0" />
<text x="130.5" y="182.7" font-size="6.3" text-anchor="end" font-weight="normal" fill="#222" stroke="#222" stroke-width="0.12" >0</text>
<line x1="141.8" y1="180.5" x2="141.8" y2="182.0" stroke="#000" stroke-width="0.5" />
<line x1="142.8" y1="180.5" x2="142.8" y2="182.0" stroke="#000" stroke-width="0.5" />
<line x1="143.8" y1="180.5" x2="143.8" y2="182.0" stroke="#000" stroke-width="0.5" />
<line x1="144.8" y1="180.5" x2="144.8" y2="182.0" stroke="#000" stroke-width="0.5" />
<line x1="145.8" y1="180.5" x2="145.8" y2="182.0" stroke="#000" stroke-width="0.5" />
<line x1="146.8" y1="180.5" x2="146.8" y2="182.0" stroke="#000" stroke-width="0.5" />
<line x1="147.8" y1="180.5" x2="147.8" y2="182.0" stroke="#000" stroke-width="0.5" />
<line x1="148.8" y1="180.5" x2="148.8" y2="182.0" stroke="#000" stroke-width="0.5" />
<line x1="150.8" y1="180.5" x2="150.8" y2="182.0" stroke="#000" stroke-width="0.5" />
<line x1="152.8" y1="180.5" x2="152.8" y2="182.0" stroke="#000" stroke-width="0.5" />
<line x1="154.8" y1="180.5" x2="154.8" y2="182.0" stroke="#000" stroke-width="0.5" />
<line x1="157.3" y1="180.5" x2="157.3" y2="182.0" stroke="#000" stroke-width="0.5" />
<line x1="163.8" y1="180.5" x2="163.8" y2="182.0" stroke="#000" stroke-width="0.5" />
<line x1="167.3" y1="180.5" x2="167.3" y2="182.0" stroke="#000" stroke-width="0.5" />
<line x1="169.8" y1="180.5" x2="169.8" y2="182.0" stroke="#000" stroke-width="0.5" />
<line x1="171.8" y1="180.5" x2="171.8" y2="182.0" stroke="#000" stroke-width="0.5" />
<line x1="173.3" y1="180.5" x2="173.3" y2="182.0" stroke="#000" stroke-width="0.5" />
<line x1="174.8" y1="180.5" x2="174.8" y2="182.0" stroke="#000" stroke-width="0.5" />
<line x1="176.10000000000002" y1="180.5" x2="176.10000000000002" y2="182.0" stroke="#000" stroke-width="0.5" />
<line x1="184.3" y1="180.5" x2="184.3" y2="182.0" stroke="#000" stroke-width="0.5" />
<line x1="188.3" y1="180.5" x2="188.3" y2="182.0" stroke="#000" stroke-width="0.5" />
<line x1="190.8" y1="180.5" x2="190.8" y2="182.0" stroke="#000" stroke-width="0.5" />
<line x1="192.8" y1="180.5" x2="192.8" y2="182.0" stroke="#000" stroke-width="0.5" />
<line x1="194.3" y1="180.5" x2="194.3" y2="182.0" stroke="#000" stroke-width="0.5" />
<line x1="195.60000000000002" y1="180.5" x2="195.60000000000002" y2="182.0" stroke="#000" stroke-width="0.5" />
<line x1="196.8" y1="180.5" x2="196.8" y2="182.0" stroke="#000" stroke-width="0.5" />
<line x1="204.3" y1="180.5" x2="204.3" y2="182.0" stroke="#000" stroke-width="0.5" />
<line x1="207.8" y1="180.5" x2="207.8" y2="182.0" stroke="#000" stroke-width="0.5" />
<line x1="144.05" y1="180.5" x2="144.05" y2="183.0" stroke="#000" stroke-width="0.8" />
<line x1="157.3" y1="180.5" x2="157.3" y2="183.0" stroke="#000" stroke-width="0.8" />
<line x1="178.0" y1="180.5" x2="178.0" y2="183.0" stroke="#000" stroke-width="0.8" />
<line x1="198.60000000000002" y1="180.5" x2="198.60000000000002" y2="183.0" stroke="#000" stroke-width="0.8" />
<text x="174.0" y="123.5" font-size="8.7" text-anchor="middle" font-weight="bold" fill="#000" >Bcl-2</text>
<text x="48.5" y="192.9" font-size="6.8" text-anchor="middle" font-weight="normal" fill="#222" stroke="#222" stroke-width="0.12" >0</text>
<text x="57.3" y="192.9" font-size="6.8" text-anchor="start" font-weight="normal" fill="#222" stroke="#222" stroke-width="0.12" >10<tspan font-size="3.9" dy="-2.7">2</tspan></text>
<text x="79.5" y="192.9" font-size="6.8" text-anchor="start" font-weight="normal" fill="#222" stroke="#222" stroke-width="0.12" >10<tspan font-size="3.9" dy="-2.7">3</tspan></text>
<text x="100.5" y="192.9" font-size="6.8" text-anchor="start" font-weight="normal" fill="#222" stroke="#222" stroke-width="0.12" >10<tspan font-size="3.9" dy="-2.7">4</tspan></text>
<text x="143.5" y="192.9" font-size="6.8" text-anchor="middle" font-weight="normal" fill="#222" stroke="#222" stroke-width="0.12" >0</text>
<text x="152.3" y="192.9" font-size="6.8" text-anchor="start" font-weight="normal" fill="#222" stroke="#222" stroke-width="0.12" >10<tspan font-size="3.9" dy="-2.7">2</tspan></text>
<text x="174.5" y="192.9" font-size="6.8" text-anchor="start" font-weight="normal" fill="#222" stroke="#222" stroke-width="0.12" >10<tspan font-size="3.9" dy="-2.7">3</tspan></text>
<text x="195.5" y="192.9" font-size="6.8" text-anchor="start" font-weight="normal" fill="#222" stroke="#222" stroke-width="0.12" >10<tspan font-size="3.9" dy="-2.7">4</tspan></text>
<line x1="42.5" y1="198.3" x2="158" y2="198.3" stroke="#000" stroke-width="1.3" />
<path d="M162,198.3 L156,195.8 L156,200.8 Z" stroke="none" fill="#000" stroke-width="1" />
<text x="66.2" y="209.0" font-size="9.2" text-anchor="start" font-weight="normal" fill="#111" stroke="#111" stroke-width="0.2" textLength="67.5" lengthAdjust="spacingAndGlyphs" >Fluorescence intensity</text>
<text x="0" y="0" font-size="10" text-anchor="middle" fill="#111" font-weight="normal" transform="translate(18,83.5) rotate(-90)" stroke="#111" stroke-width="0.28" textLength="29.5" lengthAdjust="spacingAndGlyphs">% of Max</text>
<text x="0" y="0" font-size="10" text-anchor="middle" fill="#111" font-weight="normal" transform="translate(18,154.5) rotate(-90)" stroke="#111" stroke-width="0.28" textLength="29.5" lengthAdjust="spacingAndGlyphs">% of Max</text>
<line x1="269.9" y1="61.5" x2="269.9" y2="170.7" stroke="#000" stroke-width="1.5" />
<line x1="267.4" y1="170.2" x2="479.6" y2="170.2" stroke="#000" stroke-width="1.5" />
<line x1="266.8" y1="152.6" x2="269.9" y2="152.6" stroke="#000" stroke-width="1.2" />
<text x="262.7" y="155.54999999999998" font-size="8.3" text-anchor="end" font-weight="normal" fill="#222" stroke="#222" stroke-width="0.12" textLength="10.6" lengthAdjust="spacingAndGlyphs" >1.0</text>
<line x1="266.8" y1="135.07999999999998" x2="269.9" y2="135.07999999999998" stroke="#000" stroke-width="1.2" />
<text x="262.7" y="138.02999999999997" font-size="8.3" text-anchor="end" font-weight="normal" fill="#222" stroke="#222" stroke-width="0.12" textLength="10.6" lengthAdjust="spacingAndGlyphs" >1.5</text>
<line x1="266.8" y1="117.56" x2="269.9" y2="117.56" stroke="#000" stroke-width="1.2" />
<text x="262.7" y="120.51" font-size="8.3" text-anchor="end" font-weight="normal" fill="#222" stroke="#222" stroke-width="0.12" textLength="10.6" lengthAdjust="spacingAndGlyphs" >2.0</text>
<line x1="266.8" y1="100.03999999999999" x2="269.9" y2="100.03999999999999" stroke="#000" stroke-width="1.2" />
<text x="262.7" y="102.99" font-size="8.3" text-anchor="end" font-weight="normal" fill="#222" stroke="#222" stroke-width="0.12" textLength="10.6" lengthAdjust="spacingAndGlyphs" >2.5</text>
<line x1="266.8" y1="82.52" x2="269.9" y2="82.52" stroke="#000" stroke-width="1.2" />
<text x="262.7" y="85.47" font-size="8.3" text-anchor="end" font-weight="normal" fill="#222" stroke="#222" stroke-width="0.12" textLength="10.6" lengthAdjust="spacingAndGlyphs" >3.0</text>
<line x1="266.8" y1="65.0" x2="269.9" y2="65.0" stroke="#000" stroke-width="1.2" />
<text x="262.7" y="67.95" font-size="8.3" text-anchor="end" font-weight="normal" fill="#222" stroke="#222" stroke-width="0.12" textLength="10.6" lengthAdjust="spacingAndGlyphs" >3.5</text>
<line x1="291" y1="170" x2="291" y2="173" stroke="#000" stroke-width="1.1" />
<line x1="332.6" y1="170" x2="332.6" y2="173" stroke="#000" stroke-width="1.1" />
<line x1="375" y1="170" x2="375" y2="173" stroke="#000" stroke-width="1.1" />
<line x1="417" y1="170" x2="417" y2="173" stroke="#000" stroke-width="1.1" />
<line x1="459" y1="170" x2="459" y2="173" stroke="#000" stroke-width="1.1" />
<text x="291" y="183.6" font-size="8.4" text-anchor="middle" font-weight="normal" fill="#222" stroke="#222" stroke-width="0.15" textLength="20.0" lengthAdjust="spacingAndGlyphs" >RPMI</text>
<text x="332.6" y="183.6" font-size="8.4" text-anchor="middle" font-weight="normal" fill="#222" stroke="#222" stroke-width="0.15" textLength="19.55" lengthAdjust="spacingAndGlyphs" >Mcl-1</text>
<text x="375" y="183.6" font-size="8.4" text-anchor="middle" font-weight="normal" fill="#222" stroke="#222" stroke-width="0.15" textLength="22.23" lengthAdjust="spacingAndGlyphs" >Bcl-xL</text>
<text x="417" y="183.6" font-size="8.4" text-anchor="middle" font-weight="normal" fill="#222" stroke="#222" stroke-width="0.15" textLength="28.45" lengthAdjust="spacingAndGlyphs" >Survivin</text>
<text x="459" y="183.6" font-size="8.4" text-anchor="middle" font-weight="normal" fill="#222" stroke="#222" stroke-width="0.15" textLength="18.23" lengthAdjust="spacingAndGlyphs" >Bcl-2</text>
<text x="291" y="193.5" font-size="8.4" text-anchor="middle" font-weight="normal" fill="#222" stroke="#222" stroke-width="0.15" textLength="25.79" lengthAdjust="spacingAndGlyphs" >Control</text>
<path d="M320,187.2 L320,191.5 L473,191.5 L473,187.2" stroke="#000" fill="none" stroke-width="1.3" />
<text x="341" y="202" font-size="8.29" text-anchor="start" font-weight="normal" fill="#222" stroke="#222" stroke-width="0.15" textLength="108.3" lengthAdjust="spacingAndGlyphs" >Pre-incubation with agonist mix</text>
<text x="449.7" y="198.8" font-size="5.0" text-anchor="start" font-weight="bold" fill="#111" >#</text>
<text x="319" y="212.9" font-size="8.82" text-anchor="start" font-weight="normal" fill="#222" stroke="#222" stroke-width="0.15" textLength="153.37" lengthAdjust="spacingAndGlyphs" >(# Agonist mix= CD40L+IL10+CpG ODN)</text>
<text x="0" y="0" font-size="8.4" text-anchor="middle" fill="#111" font-weight="normal" transform="translate(234.6,118.2) rotate(-90)" stroke="#111" stroke-width="0.3" textLength="68.6" lengthAdjust="spacingAndGlyphs">Anti-apoptotic protein</text>
<text x="0" y="0" font-size="8.4" text-anchor="middle" fill="#111" font-weight="normal" transform="translate(245.3,117.5) rotate(-90)" stroke="#111" stroke-width="0.3" textLength="74.3" lengthAdjust="spacingAndGlyphs">expression (fold change)</text>
<path d="M281,32.4 L281,29.4 L455,29.4 L455,32.4" stroke="#000" fill="none" stroke-width="1.25" />
<path d="M281,41 L281,38 L413,38 L413,41" stroke="#000" fill="none" stroke-width="1.25" />
<path d="M281,48.75 L281,45.75 L369.5,45.75 L369.5,48.75" stroke="#000" fill="none" stroke-width="1.25" />
<path d="M281,57.4 L281,54.4 L330,54.4 L330,57.4" stroke="#000" fill="none" stroke-width="1.25" />
<circle cx="362.50" cy="26.2" r="1.25" fill="#000"/>
<circle cx="366.17" cy="26.2" r="1.25" fill="#000"/>
<circle cx="369.83" cy="26.2" r="1.25" fill="#000"/>
<circle cx="373.50" cy="26.2" r="1.25" fill="#000"/>
<circle cx="347" cy="34.5" r="1.25" fill="#000"/>
<circle cx="319.50" cy="42.9" r="1.25" fill="#000"/>
<circle cx="323.07" cy="42.9" r="1.25" fill="#000"/>
<circle cx="326.63" cy="42.9" r="1.25" fill="#000"/>
<circle cx="330.20" cy="42.9" r="1.25" fill="#000"/>
<circle cx="300.00" cy="51" r="1.25" fill="#000"/>
<circle cx="303.67" cy="51" r="1.25" fill="#000"/>
<circle cx="307.33" cy="51" r="1.25" fill="#000"/>
<circle cx="311.00" cy="51" r="1.25" fill="#000"/>
<circle cx="408.7" cy="66.8" r="2.7" fill="#b6c8e5" stroke="#4b5f84" stroke-width="0.9"/>
<text x="412.6" y="69.2" font-size="8.51" text-anchor="start" font-weight="normal" fill="#222" stroke="#222" stroke-width="0.15" textLength="41.79" lengthAdjust="spacingAndGlyphs" >CLL (N=14)</text>
<path d="M291.0,152.6 L332.6,73.9 L375.0,126.0 L417.0,110.5 L459.0,146.0" fill="none" stroke="#c4c4c4" stroke-width="0.6"/>
<path d="M291.0,152.6 L332.6,82.1 L375.0,122.0 L417.0,104.9 L459.0,142.6" fill="none" stroke="#c4c4c4" stroke-width="0.6"/>
<path d="M291.0,152.6 L332.6,102.4 L375.0,131.0 L417.0,140.4 L459.0,139.0" fill="none" stroke="#c4c4c4" stroke-width="0.6"/>
<path d="M291.0,152.6 L332.6,106.0 L375.0,136.0 L417.0,144.0 L459.0,142.6" fill="none" stroke="#c4c4c4" stroke-width="0.6"/>
<path d="M291.0,152.6 L332.6,109.5 L375.0,140.4 L417.0,148.6 L459.0,146.9" fill="none" stroke="#c4c4c4" stroke-width="0.6"/>
<path d="M291.0,152.6 L332.6,114.0 L375.0,130.8 L417.0,142.0 L459.0,151.1" fill="none" stroke="#c4c4c4" stroke-width="0.6"/>
<path d="M291.0,152.6 L332.6,117.0 L375.0,136.2 L417.0,154.0 L459.0,139.0" fill="none" stroke="#c4c4c4" stroke-width="0.6"/>
<path d="M291.0,152.6 L332.6,121.2 L375.0,147.6 L417.0,150.0 L459.0,146.9" fill="none" stroke="#c4c4c4" stroke-width="0.6"/>
<path d="M291.0,152.6 L332.6,124.0 L375.0,140.4 L417.0,144.0 L459.0,151.1" fill="none" stroke="#c4c4c4" stroke-width="0.6"/>
<path d="M291.0,152.6 L332.6,128.3 L375.0,142.0 L417.0,148.6 L459.0,142.6" fill="none" stroke="#c4c4c4" stroke-width="0.6"/>
<path d="M291.0,152.6 L332.6,132.6 L375.0,147.6 L417.0,154.0 L459.0,146.9" fill="none" stroke="#c4c4c4" stroke-width="0.6"/>
<path d="M291.0,152.6 L332.6,136.2 L375.0,144.0 L417.0,151.0 L459.0,151.1" fill="none" stroke="#c4c4c4" stroke-width="0.6"/>
<path d="M291.0,152.6 L332.6,110.0 L375.0,138.0 L417.0,146.0 L459.0,144.0" fill="none" stroke="#c4c4c4" stroke-width="0.6"/>
<path d="M291.0,152.6 L332.6,119.0 L375.0,133.0 L417.0,141.0 L459.0,148.0" fill="none" stroke="#c4c4c4" stroke-width="0.6"/>
<circle cx="291" cy="152.6" r="3.3" fill="#b6c8e5" stroke="#4b5f84" stroke-width="0.95"/>
<circle cx="332.6" cy="73.9" r="3.3" fill="#b6c8e5" stroke="#4b5f84" stroke-width="0.95"/>
<circle cx="375" cy="126.0" r="3.3" fill="#b6c8e5" stroke="#4b5f84" stroke-width="0.95"/>
<circle cx="417" cy="110.5" r="3.3" fill="#b6c8e5" stroke="#4b5f84" stroke-width="0.95"/>
<circle cx="459" cy="146.0" r="3.3" fill="#b6c8e5" stroke="#4b5f84" stroke-width="0.95"/>
<circle cx="332.6" cy="82.1" r="3.3" fill="#b6c8e5" stroke="#4b5f84" stroke-width="0.95"/>
<circle cx="375" cy="122.0" r="3.3" fill="#b6c8e5" stroke="#4b5f84" stroke-width="0.95"/>
<circle cx="417" cy="104.9" r="3.3" fill="#b6c8e5" stroke="#4b5f84" stroke-width="0.95"/>
<circle cx="459" cy="142.6" r="3.3" fill="#b6c8e5" stroke="#4b5f84" stroke-width="0.95"/>
<circle cx="332.6" cy="102.4" r="3.3" fill="#b6c8e5" stroke="#4b5f84" stroke-width="0.95"/>
<circle cx="375" cy="131.0" r="3.3" fill="#b6c8e5" stroke="#4b5f84" stroke-width="0.95"/>
<circle cx="417" cy="140.4" r="3.3" fill="#b6c8e5" stroke="#4b5f84" stroke-width="0.95"/>
<circle cx="459" cy="139.0" r="3.3" fill="#b6c8e5" stroke="#4b5f84" stroke-width="0.95"/>
<circle cx="332.6" cy="106.0" r="3.3" fill="#b6c8e5" stroke="#4b5f84" stroke-width="0.95"/>
<circle cx="375" cy="136.0" r="3.3" fill="#b6c8e5" stroke="#4b5f84" stroke-width="0.95"/>
<circle cx="417" cy="144.0" r="3.3" fill="#b6c8e5" stroke="#4b5f84" stroke-width="0.95"/>
<circle cx="459" cy="142.6" r="3.3" fill="#b6c8e5" stroke="#4b5f84" stroke-width="0.95"/>
<circle cx="332.6" cy="109.5" r="3.3" fill="#b6c8e5" stroke="#4b5f84" stroke-width="0.95"/>
<circle cx="375" cy="140.4" r="3.3" fill="#b6c8e5" stroke="#4b5f84" stroke-width="0.95"/>
<circle cx="417" cy="148.6" r="3.3" fill="#b6c8e5" stroke="#4b5f84" stroke-width="0.95"/>
<circle cx="459" cy="146.9" r="3.3" fill="#b6c8e5" stroke="#4b5f84" stroke-width="0.95"/>
<circle cx="332.6" cy="114.0" r="3.3" fill="#b6c8e5" stroke="#4b5f84" stroke-width="0.95"/>
<circle cx="375" cy="130.8" r="3.3" fill="#b6c8e5" stroke="#4b5f84" stroke-width="0.95"/>
<circle cx="417" cy="142.0" r="3.3" fill="#b6c8e5" stroke="#4b5f84" stroke-width="0.95"/>
<circle cx="459" cy="151.1" r="3.3" fill="#b6c8e5" stroke="#4b5f84" stroke-width="0.95"/>
<circle cx="332.6" cy="117.0" r="3.3" fill="#b6c8e5" stroke="#4b5f84" stroke-width="0.95"/>
<circle cx="375" cy="136.2" r="3.3" fill="#b6c8e5" stroke="#4b5f84" stroke-width="0.95"/>
<circle cx="417" cy="154.0" r="3.3" fill="#b6c8e5" stroke="#4b5f84" stroke-width="0.95"/>
<circle cx="459" cy="139.0" r="3.3" fill="#b6c8e5" stroke="#4b5f84" stroke-width="0.95"/>
<circle cx="332.6" cy="121.2" r="3.3" fill="#b6c8e5" stroke="#4b5f84" stroke-width="0.95"/>
<circle cx="375" cy="147.6" r="3.3" fill="#b6c8e5" stroke="#4b5f84" stroke-width="0.95"/>
<circle cx="417" cy="150.0" r="3.3" fill="#b6c8e5" stroke="#4b5f84" stroke-width="0.95"/>
<circle cx="459" cy="146.9" r="3.3" fill="#b6c8e5" stroke="#4b5f84" stroke-width="0.95"/>
<circle cx="332.6" cy="124.0" r="3.3" fill="#b6c8e5" stroke="#4b5f84" stroke-width="0.95"/>
<circle cx="375" cy="140.4" r="3.3" fill="#b6c8e5" stroke="#4b5f84" stroke-width="0.95"/>
<circle cx="417" cy="144.0" r="3.3" fill="#b6c8e5" stroke="#4b5f84" stroke-width="0.95"/>
<circle cx="459" cy="151.1" r="3.3" fill="#b6c8e5" stroke="#4b5f84" stroke-width="0.95"/>
<circle cx="332.6" cy="128.3" r="3.3" fill="#b6c8e5" stroke="#4b5f84" stroke-width="0.95"/>
<circle cx="375" cy="142.0" r="3.3" fill="#b6c8e5" stroke="#4b5f84" stroke-width="0.95"/>
<circle cx="417" cy="148.6" r="3.3" fill="#b6c8e5" stroke="#4b5f84" stroke-width="0.95"/>
<circle cx="459" cy="142.6" r="3.3" fill="#b6c8e5" stroke="#4b5f84" stroke-width="0.95"/>
<circle cx="332.6" cy="132.6" r="3.3" fill="#b6c8e5" stroke="#4b5f84" stroke-width="0.95"/>
<circle cx="375" cy="147.6" r="3.3" fill="#b6c8e5" stroke="#4b5f84" stroke-width="0.95"/>
<circle cx="417" cy="154.0" r="3.3" fill="#b6c8e5" stroke="#4b5f84" stroke-width="0.95"/>
<circle cx="459" cy="146.9" r="3.3" fill="#b6c8e5" stroke="#4b5f84" stroke-width="0.95"/>
<circle cx="332.6" cy="136.2" r="3.3" fill="#b6c8e5" stroke="#4b5f84" stroke-width="0.95"/>
<circle cx="375" cy="144.0" r="3.3" fill="#b6c8e5" stroke="#4b5f84" stroke-width="0.95"/>
<circle cx="417" cy="151.0" r="3.3" fill="#b6c8e5" stroke="#4b5f84" stroke-width="0.95"/>
<circle cx="459" cy="151.1" r="3.3" fill="#b6c8e5" stroke="#4b5f84" stroke-width="0.95"/>
<circle cx="332.6" cy="110.0" r="3.3" fill="#b6c8e5" stroke="#4b5f84" stroke-width="0.95"/>
<circle cx="375" cy="138.0" r="3.3" fill="#b6c8e5" stroke="#4b5f84" stroke-width="0.95"/>
<circle cx="417" cy="146.0" r="3.3" fill="#b6c8e5" stroke="#4b5f84" stroke-width="0.95"/>
<circle cx="459" cy="144.0" r="3.3" fill="#b6c8e5" stroke="#4b5f84" stroke-width="0.95"/>
<circle cx="332.6" cy="119.0" r="3.3" fill="#b6c8e5" stroke="#4b5f84" stroke-width="0.95"/>
<circle cx="375" cy="133.0" r="3.3" fill="#b6c8e5" stroke="#4b5f84" stroke-width="0.95"/>
<circle cx="417" cy="141.0" r="3.3" fill="#b6c8e5" stroke="#4b5f84" stroke-width="0.95"/>
<circle cx="459" cy="148.0" r="3.3" fill="#b6c8e5" stroke="#4b5f84" stroke-width="0.95"/>
<line x1="53" y1="268.5" x2="53" y2="378" stroke="#000" stroke-width="1.5" />
<line x1="49.7" y1="377.3" x2="190" y2="377.3" stroke="#000" stroke-width="1.5" />
<line x1="48.8" y1="356.8" x2="53" y2="356.8" stroke="#000" stroke-width="1.2" />
<text x="46.2" y="359.75" font-size="8.3" text-anchor="end" font-weight="normal" fill="#222" stroke="#222" stroke-width="0.12" textLength="10.6" lengthAdjust="spacingAndGlyphs" >1.0</text>
<line x1="48.8" y1="335.7" x2="53" y2="335.7" stroke="#000" stroke-width="1.2" />
<text x="46.2" y="338.65" font-size="8.3" text-anchor="end" font-weight="normal" fill="#222" stroke="#222" stroke-width="0.12" textLength="10.6" lengthAdjust="spacingAndGlyphs" >1.5</text>
<line x1="48.8" y1="314.6" x2="53" y2="314.6" stroke="#000" stroke-width="1.2" />
<text x="46.2" y="317.55" font-size="8.3" text-anchor="end" font-weight="normal" fill="#222" stroke="#222" stroke-width="0.12" textLength="10.6" lengthAdjust="spacingAndGlyphs" >2.0</text>
<line x1="48.8" y1="293.5" x2="53" y2="293.5" stroke="#000" stroke-width="1.2" />
<text x="46.2" y="296.45" font-size="8.3" text-anchor="end" font-weight="normal" fill="#222" stroke="#222" stroke-width="0.12" textLength="10.6" lengthAdjust="spacingAndGlyphs" >2.5</text>
<line x1="48.8" y1="272.4" x2="53" y2="272.4" stroke="#000" stroke-width="1.2" />
<text x="46.2" y="275.34999999999997" font-size="8.3" text-anchor="end" font-weight="normal" fill="#222" stroke="#222" stroke-width="0.12" textLength="10.6" lengthAdjust="spacingAndGlyphs" >3.0</text>
<line x1="66.2" y1="377.3" x2="66.2" y2="380.3" stroke="#000" stroke-width="1.1" />
<line x1="93.9" y1="377.3" x2="93.9" y2="380.3" stroke="#000" stroke-width="1.1" />
<line x1="121.6" y1="377.3" x2="121.6" y2="380.3" stroke="#000" stroke-width="1.1" />
<line x1="148.5" y1="377.3" x2="148.5" y2="380.3" stroke="#000" stroke-width="1.1" />
<line x1="176.2" y1="377.3" x2="176.2" y2="380.3" stroke="#000" stroke-width="1.1" />
<text x="62.7" y="391" font-size="8.29" text-anchor="middle" font-weight="normal" fill="#222" stroke="#222" stroke-width="0.15" textLength="19.75" lengthAdjust="spacingAndGlyphs" >RPMI</text>
<text x="94.8" y="391" font-size="8.29" text-anchor="middle" font-weight="normal" fill="#222" stroke="#222" stroke-width="0.15" textLength="19.31" lengthAdjust="spacingAndGlyphs" >Mcl-1</text>
<text x="122.7" y="391" font-size="8.29" text-anchor="middle" font-weight="normal" fill="#222" stroke="#222" stroke-width="0.15" textLength="21.95" lengthAdjust="spacingAndGlyphs" >Bcl-xL</text>
<text x="150.4" y="391" font-size="8.29" text-anchor="middle" font-weight="normal" fill="#222" stroke="#222" stroke-width="0.15" textLength="28.1" lengthAdjust="spacingAndGlyphs" >Survivin</text>
<text x="177.1" y="391" font-size="8.29" text-anchor="middle" font-weight="normal" fill="#222" stroke="#222" stroke-width="0.15" textLength="18.0" lengthAdjust="spacingAndGlyphs" >Bcl-2</text>
<text x="62.3" y="400.6" font-size="8.29" text-anchor="middle" font-weight="normal" fill="#222" stroke="#222" stroke-width="0.15" textLength="25.47" lengthAdjust="spacingAndGlyphs" >Control</text>
<path d="M82,394 L82,397.7 L186.6,397.7 L186.6,394" stroke="#000" fill="none" stroke-width="1.3" />
<text x="78.1" y="410.2" font-size="8.29" text-anchor="start" font-weight="normal" fill="#222" stroke="#222" stroke-width="0.15" textLength="110.6" lengthAdjust="spacingAndGlyphs" >Pre-incubation with agonist mix</text>
<text x="189.1" y="407.0" font-size="5.0" text-anchor="start" font-weight="bold" fill="#111" >#</text>
<text x="0" y="0" font-size="8.4" text-anchor="middle" fill="#111" font-weight="normal" transform="translate(17.5,326.3) rotate(-90)" stroke="#111" stroke-width="0.3" textLength="68.2" lengthAdjust="spacingAndGlyphs">Anti-apoptotic protein</text>
<text x="0" y="0" font-size="8.4" text-anchor="middle" fill="#111" font-weight="normal" transform="translate(28.9,325.6) rotate(-90)" stroke="#111" stroke-width="0.3" textLength="74.6" lengthAdjust="spacingAndGlyphs">expression (fold change)</text>
<path d="M62.3,258.5 L62.3,255.5 L175.75,255.5 L175.75,258.5" stroke="#000" fill="none" stroke-width="1.25" />
<path d="M62.3,266 L62.3,263 L146.5,263 L146.5,266" stroke="#000" fill="none" stroke-width="1.25" />
<path d="M62.3,273 L62.3,270 L120.25,270 L120.25,273" stroke="#000" fill="none" stroke-width="1.25" />
<path d="M62.3,281 L62.3,278 L93.5,278 L93.5,281" stroke="#000" fill="none" stroke-width="1.25" />
<text x="118.9" y="252.9" font-size="8.4" text-anchor="middle" font-weight="normal" fill="#222" stroke="#222" stroke-width="0.15" textLength="11.11" lengthAdjust="spacingAndGlyphs" >NS</text>
<circle cx="104.75" cy="259.5" r="1.25" fill="#000"/>
<circle cx="89.50" cy="266.3" r="1.25" fill="#000"/>
<circle cx="94.00" cy="266.3" r="1.25" fill="#000"/>
<circle cx="75.80" cy="274.5" r="1.25" fill="#000"/>
<circle cx="80.40" cy="274.5" r="1.25" fill="#000"/>
<circle cx="136.5" cy="292.9" r="2.8" fill="#8be04a" stroke="#307217" stroke-width="0.9"/>
<text x="142.6" y="295.8" font-size="9.03" text-anchor="start" font-weight="normal" fill="#222" stroke="#222" stroke-width="0.15" textLength="41.6" lengthAdjust="spacingAndGlyphs" >MCL (N=6)</text>
<rect x="133.9" y="302.3" width="5.2" height="5.2" fill="#8be04a" stroke="#307217" stroke-width="0.9"/>
<text x="142.6" y="307.6" font-size="9.03" text-anchor="start" font-weight="normal" fill="#222" stroke="#222" stroke-width="0.15" textLength="46.2" lengthAdjust="spacingAndGlyphs" >Mino cell line</text>
<path d="M66.2,356.8 L93.9,287.0 L121.6,295.5 L148.5,337.1 L176.2,337.5" fill="none" stroke="#d0d0d0" stroke-width="0.6"/>
<path d="M66.2,356.8 L93.9,299.0 L121.6,290.5 L148.5,344.0 L176.2,347.8" fill="none" stroke="#d0d0d0" stroke-width="0.6"/>
<path d="M66.2,356.8 L93.9,301.0 L121.6,310.5 L148.5,347.5 L176.2,355.9" fill="none" stroke="#d0d0d0" stroke-width="0.6"/>
<path d="M66.2,356.8 L93.9,317.0 L121.6,315.0 L148.5,352.5 L176.2,359.6" fill="none" stroke="#d0d0d0" stroke-width="0.6"/>
<path d="M66.2,356.8 L93.9,337.4 L121.6,332.6 L148.5,355.6 L176.2,364.8" fill="none" stroke="#d0d0d0" stroke-width="0.6"/>
<path d="M66.2,356.8 L93.9,346.4 L121.6,342.5 L148.5,358.4 L176.2,359.6" fill="none" stroke="#d0d0d0" stroke-width="0.6"/>
<path d="M66.2,356.8 L93.9,351.5 L121.6,320.0 L148.5,352.5 L176.2,355.9" fill="none" stroke="#d0d0d0" stroke-width="0.6"/>
<rect x="63.1" y="353.7" width="6.2" height="6.2" fill="#8be04a" stroke="#307217" stroke-width="1.1"/>
<rect x="90.8" y="348.4" width="6.2" height="6.2" fill="#8be04a" stroke="#307217" stroke-width="1.1"/>
<rect x="118.5" y="316.9" width="6.2" height="6.2" fill="#8be04a" stroke="#307217" stroke-width="1.1"/>
<rect x="145.4" y="349.4" width="6.2" height="6.2" fill="#8be04a" stroke="#307217" stroke-width="1.1"/>
<rect x="173.1" y="352.8" width="6.2" height="6.2" fill="#8be04a" stroke="#307217" stroke-width="1.1"/>
<circle cx="66.2" cy="356.8" r="3.4" fill="#8be04a" stroke="#307217" stroke-width="1"/>
<circle cx="93.9" cy="287.0" r="3.4" fill="#8be04a" stroke="#307217" stroke-width="1"/>
<circle cx="121.6" cy="295.5" r="3.4" fill="#8be04a" stroke="#307217" stroke-width="1"/>
<circle cx="148.5" cy="337.1" r="3.4" fill="#8be04a" stroke="#307217" stroke-width="1"/>
<circle cx="176.2" cy="337.5" r="3.4" fill="#8be04a" stroke="#307217" stroke-width="1"/>
<circle cx="93.9" cy="299.0" r="3.4" fill="#8be04a" stroke="#307217" stroke-width="1"/>
<circle cx="121.6" cy="290.5" r="3.4" fill="#8be04a" stroke="#307217" stroke-width="1"/>
<circle cx="148.5" cy="344.0" r="3.4" fill="#8be04a" stroke="#307217" stroke-width="1"/>
<circle cx="176.2" cy="347.8" r="3.4" fill="#8be04a" stroke="#307217" stroke-width="1"/>
<circle cx="93.9" cy="301.0" r="3.4" fill="#8be04a" stroke="#307217" stroke-width="1"/>
<circle cx="121.6" cy="310.5" r="3.4" fill="#8be04a" stroke="#307217" stroke-width="1"/>
<circle cx="148.5" cy="347.5" r="3.4" fill="#8be04a" stroke="#307217" stroke-width="1"/>
<circle cx="176.2" cy="355.9" r="3.4" fill="#8be04a" stroke="#307217" stroke-width="1"/>
<circle cx="93.9" cy="317.0" r="3.4" fill="#8be04a" stroke="#307217" stroke-width="1"/>
<circle cx="121.6" cy="315.0" r="3.4" fill="#8be04a" stroke="#307217" stroke-width="1"/>
<circle cx="148.5" cy="352.5" r="3.4" fill="#8be04a" stroke="#307217" stroke-width="1"/>
<circle cx="176.2" cy="359.6" r="3.4" fill="#8be04a" stroke="#307217" stroke-width="1"/>
<circle cx="93.9" cy="337.4" r="3.4" fill="#8be04a" stroke="#307217" stroke-width="1"/>
<circle cx="121.6" cy="332.6" r="3.4" fill="#8be04a" stroke="#307217" stroke-width="1"/>
<circle cx="148.5" cy="355.6" r="3.4" fill="#8be04a" stroke="#307217" stroke-width="1"/>
<circle cx="176.2" cy="364.8" r="3.4" fill="#8be04a" stroke="#307217" stroke-width="1"/>
<circle cx="93.9" cy="346.4" r="3.4" fill="#8be04a" stroke="#307217" stroke-width="1"/>
<circle cx="121.6" cy="342.5" r="3.4" fill="#8be04a" stroke="#307217" stroke-width="1"/>
<circle cx="148.5" cy="358.4" r="3.4" fill="#8be04a" stroke="#307217" stroke-width="1"/>
<circle cx="176.2" cy="359.6" r="3.4" fill="#8be04a" stroke="#307217" stroke-width="1"/>
<line x1="243.1" y1="245.5" x2="243.1" y2="362" stroke="#000" stroke-width="1.5" />
<line x1="240.3" y1="359" x2="508.6" y2="359" stroke="#000" stroke-width="1.5" />
<line x1="240.0" y1="359.0" x2="243.1" y2="359.0" stroke="#000" stroke-width="1.2" />
<text x="236.4" y="361.95" font-size="8.3" text-anchor="end" font-weight="normal" fill="#222" stroke="#222" stroke-width="0.12" >0</text>
<line x1="240.0" y1="338.5" x2="243.1" y2="338.5" stroke="#000" stroke-width="1.2" />
<text x="236.4" y="341.45" font-size="8.3" text-anchor="end" font-weight="normal" fill="#222" stroke="#222" stroke-width="0.12" textLength="10.6" lengthAdjust="spacingAndGlyphs" >1.0</text>
<line x1="240.0" y1="318.0" x2="243.1" y2="318.0" stroke="#000" stroke-width="1.2" />
<text x="236.4" y="320.95" font-size="8.3" text-anchor="end" font-weight="normal" fill="#222" stroke="#222" stroke-width="0.12" textLength="10.6" lengthAdjust="spacingAndGlyphs" >2.0</text>
<line x1="240.0" y1="297.5" x2="243.1" y2="297.5" stroke="#000" stroke-width="1.2" />
<text x="236.4" y="300.45" font-size="8.3" text-anchor="end" font-weight="normal" fill="#222" stroke="#222" stroke-width="0.12" textLength="10.6" lengthAdjust="spacingAndGlyphs" >3.0</text>
<line x1="240.0" y1="277.0" x2="243.1" y2="277.0" stroke="#000" stroke-width="1.2" />
<text x="236.4" y="279.95" font-size="8.3" text-anchor="end" font-weight="normal" fill="#222" stroke="#222" stroke-width="0.12" textLength="10.6" lengthAdjust="spacingAndGlyphs" >4.0</text>
<line x1="240.0" y1="256.5" x2="243.1" y2="256.5" stroke="#000" stroke-width="1.2" />
<text x="236.4" y="259.45" font-size="8.3" text-anchor="end" font-weight="normal" fill="#222" stroke="#222" stroke-width="0.12" textLength="10.6" lengthAdjust="spacingAndGlyphs" >5.0</text>
<line x1="318.8" y1="359" x2="318.8" y2="362" stroke="#000" stroke-width="1.1" />
<line x1="356.4" y1="359" x2="356.4" y2="362" stroke="#000" stroke-width="1.1" />
<line x1="394.0" y1="359" x2="394.0" y2="362" stroke="#000" stroke-width="1.1" />
<line x1="431.6" y1="359" x2="431.6" y2="362" stroke="#000" stroke-width="1.1" />
<line x1="469.20000000000005" y1="359" x2="469.20000000000005" y2="362" stroke="#000" stroke-width="1.1" />
<line x1="506.79999999999995" y1="359" x2="506.79999999999995" y2="362" stroke="#000" stroke-width="1.1" />
<rect x="245.90" y="338.50" width="7.80" height="20.50" fill="#bd0733" stroke="#840424" stroke-width="0.6"/>
<rect x="253.70" y="338.50" width="7.80" height="20.50" fill="#2f5190" stroke="#1d3665" stroke-width="0.6"/>
<rect x="261.50" y="338.50" width="7.80" height="20.50" fill="#68b339" stroke="#417c24" stroke-width="0.6"/>
<rect x="269.30" y="338.50" width="7.80" height="20.50" fill="#55266f" stroke="#38184c" stroke-width="0.6"/>
<rect x="283.50" y="283.76" width="7.80" height="75.24" fill="#bd0733" stroke="#840424" stroke-width="0.6"/>
<line x1="287.4" y1="276.18" x2="287.4" y2="291.35" stroke="#1a1a1a" stroke-width="1" />
<line x1="285.4" y1="276.18" x2="289.4" y2="276.18" stroke="#1a1a1a" stroke-width="1.1" />
<rect x="291.30" y="310.00" width="7.80" height="49.00" fill="#2f5190" stroke="#1d3665" stroke-width="0.6"/>
<line x1="295.2" y1="308.57" x2="295.2" y2="311.44" stroke="#1a1a1a" stroke-width="1" />
<line x1="293.2" y1="308.57" x2="297.2" y2="308.57" stroke="#1a1a1a" stroke-width="1.1" />
<rect x="299.10" y="320.05" width="7.80" height="38.95" fill="#68b339" stroke="#417c24" stroke-width="0.6"/>
<line x1="303.0" y1="317.385" x2="303.0" y2="322.715" stroke="#1a1a1a" stroke-width="1" />
<line x1="301.0" y1="317.385" x2="305.0" y2="317.385" stroke="#1a1a1a" stroke-width="1.1" />
<rect x="306.90" y="328.66" width="7.80" height="30.34" fill="#55266f" stroke="#38184c" stroke-width="0.6"/>
<line x1="310.79999999999995" y1="327.02" x2="310.79999999999995" y2="330.3" stroke="#1a1a1a" stroke-width="1" />
<line x1="308.79999999999995" y1="327.02" x2="312.79999999999995" y2="327.02" stroke="#1a1a1a" stroke-width="1.1" />
<rect x="321.10" y="276.59" width="7.80" height="82.41" fill="#bd0733" stroke="#840424" stroke-width="0.6"/>
<line x1="325.0" y1="274.95" x2="325.0" y2="278.23" stroke="#1a1a1a" stroke-width="1" />
<line x1="323.0" y1="274.95" x2="327.0" y2="274.95" stroke="#1a1a1a" stroke-width="1.1" />
<rect x="328.90" y="306.52" width="7.80" height="52.48" fill="#2f5190" stroke="#1d3665" stroke-width="0.6"/>
<line x1="332.8" y1="306.11" x2="332.8" y2="306.93" stroke="#1a1a1a" stroke-width="1" />
<line x1="330.8" y1="306.11" x2="334.8" y2="306.11" stroke="#1a1a1a" stroke-width="1.1" />
<rect x="336.70" y="322.31" width="7.80" height="36.69" fill="#68b339" stroke="#417c24" stroke-width="0.6"/>
<line x1="340.6" y1="321.075" x2="340.6" y2="323.535" stroke="#1a1a1a" stroke-width="1" />
<line x1="338.6" y1="321.075" x2="342.6" y2="321.075" stroke="#1a1a1a" stroke-width="1.1" />
<rect x="344.50" y="330.50" width="7.80" height="28.50" fill="#55266f" stroke="#38184c" stroke-width="0.6"/>
<line x1="348.4" y1="328.865" x2="348.4" y2="332.145" stroke="#1a1a1a" stroke-width="1" />
<line x1="346.4" y1="328.865" x2="350.4" y2="328.865" stroke="#1a1a1a" stroke-width="1.1" />
<rect x="358.70" y="326.61" width="7.80" height="32.39" fill="#bd0733" stroke="#840424" stroke-width="0.6"/>
<line x1="362.59999999999997" y1="324.355" x2="362.59999999999997" y2="328.865" stroke="#1a1a1a" stroke-width="1" />
<line x1="360.59999999999997" y1="324.355" x2="364.59999999999997" y2="324.355" stroke="#1a1a1a" stroke-width="1.1" />
<rect x="366.50" y="322.10" width="7.80" height="36.90" fill="#2f5190" stroke="#1d3665" stroke-width="0.6"/>
<line x1="370.4" y1="321.69" x2="370.4" y2="322.51" stroke="#1a1a1a" stroke-width="1" />
<line x1="368.4" y1="321.69" x2="372.4" y2="321.69" stroke="#1a1a1a" stroke-width="1.1" />
<rect x="374.30" y="331.32" width="7.80" height="27.68" fill="#68b339" stroke="#417c24" stroke-width="0.6"/>
<line x1="378.2" y1="330.915" x2="378.2" y2="331.735" stroke="#1a1a1a" stroke-width="1" />
<line x1="376.2" y1="330.915" x2="380.2" y2="330.915" stroke="#1a1a1a" stroke-width="1.1" />
<rect x="382.10" y="333.79" width="7.80" height="25.21" fill="#55266f" stroke="#38184c" stroke-width="0.6"/>
<rect x="396.30" y="257.12" width="7.80" height="101.88" fill="#bd0733" stroke="#840424" stroke-width="0.6"/>
<line x1="400.2" y1="253.015" x2="400.2" y2="261.21500000000003" stroke="#1a1a1a" stroke-width="1" />
<line x1="398.2" y1="253.015" x2="402.2" y2="253.015" stroke="#1a1a1a" stroke-width="1.1" />
<rect x="404.10" y="302.21" width="7.80" height="56.79" fill="#2f5190" stroke="#1d3665" stroke-width="0.6"/>
<rect x="411.90" y="320.05" width="7.80" height="38.95" fill="#68b339" stroke="#417c24" stroke-width="0.6"/>
<rect x="419.70" y="324.97" width="7.80" height="34.03" fill="#55266f" stroke="#38184c" stroke-width="0.6"/>
<line x1="423.59999999999997" y1="324.56" x2="423.59999999999997" y2="325.38" stroke="#1a1a1a" stroke-width="1" />
<line x1="421.59999999999997" y1="324.56" x2="425.59999999999997" y2="324.56" stroke="#1a1a1a" stroke-width="1.1" />
<rect x="433.90" y="343.62" width="7.80" height="15.38" fill="#bd0733" stroke="#840424" stroke-width="0.6"/>
<line x1="437.8" y1="339.32" x2="437.8" y2="347.93" stroke="#1a1a1a" stroke-width="1" />
<line x1="435.8" y1="339.32" x2="439.8" y2="339.32" stroke="#1a1a1a" stroke-width="1.1" />
<rect x="441.70" y="320.05" width="7.80" height="38.95" fill="#2f5190" stroke="#1d3665" stroke-width="0.6"/>
<rect x="449.50" y="336.65" width="7.80" height="22.35" fill="#68b339" stroke="#417c24" stroke-width="0.6"/>
<line x1="453.40000000000003" y1="335.015" x2="453.40000000000003" y2="338.295" stroke="#1a1a1a" stroke-width="1" />
<line x1="451.40000000000003" y1="335.015" x2="455.40000000000003" y2="335.015" stroke="#1a1a1a" stroke-width="1.1" />
<rect x="457.30" y="346.29" width="7.80" height="12.71" fill="#55266f" stroke="#38184c" stroke-width="0.6"/>
<line x1="461.2" y1="345.88" x2="461.2" y2="346.7" stroke="#1a1a1a" stroke-width="1" />
<line x1="459.2" y1="345.88" x2="463.2" y2="345.88" stroke="#1a1a1a" stroke-width="1.1" />
<rect x="471.50" y="340.55" width="7.80" height="18.45" fill="#bd0733" stroke="#840424" stroke-width="0.6"/>
<line x1="475.40000000000003" y1="338.5" x2="475.40000000000003" y2="342.6" stroke="#1a1a1a" stroke-width="1" />
<line x1="473.40000000000003" y1="338.5" x2="477.40000000000003" y2="338.5" stroke="#1a1a1a" stroke-width="1.1" />
<rect x="479.30" y="316.36" width="7.80" height="42.64" fill="#2f5190" stroke="#1d3665" stroke-width="0.6"/>
<line x1="483.20000000000005" y1="315.13" x2="483.20000000000005" y2="317.59" stroke="#1a1a1a" stroke-width="1" />
<line x1="481.20000000000005" y1="315.13" x2="485.20000000000005" y2="315.13" stroke="#1a1a1a" stroke-width="1.1" />
<rect x="487.10" y="336.45" width="7.80" height="22.55" fill="#68b339" stroke="#417c24" stroke-width="0.6"/>
<line x1="491.00000000000006" y1="335.22" x2="491.00000000000006" y2="337.68" stroke="#1a1a1a" stroke-width="1" />
<line x1="489.00000000000006" y1="335.22" x2="493.00000000000006" y2="335.22" stroke="#1a1a1a" stroke-width="1.1" />
<rect x="494.90" y="343.62" width="7.80" height="15.38" fill="#55266f" stroke="#38184c" stroke-width="0.6"/>
<rect x="462.8" y="255.0" width="4.8" height="4.6" fill="#bd0733" stroke="#840424" stroke-width="0.5"/>
<text x="471.2" y="259.90000000000003" font-size="8.4" text-anchor="start" font-weight="normal" fill="#222" stroke="#222" stroke-width="0.15" textLength="19.55" lengthAdjust="spacingAndGlyphs" >Mcl-1</text>
<rect x="462.8" y="265.9" width="4.8" height="4.6" fill="#2f5190" stroke="#1d3665" stroke-width="0.5"/>
<text x="471.2" y="270.8" font-size="8.4" text-anchor="start" font-weight="normal" fill="#222" stroke="#222" stroke-width="0.15" textLength="22.23" lengthAdjust="spacingAndGlyphs" >Bcl-xL</text>
<rect x="462.8" y="276.8" width="4.8" height="4.6" fill="#68b339" stroke="#417c24" stroke-width="0.5"/>
<text x="471.2" y="281.70000000000005" font-size="8.4" text-anchor="start" font-weight="normal" fill="#222" stroke="#222" stroke-width="0.15" textLength="28.45" lengthAdjust="spacingAndGlyphs" >Survivin</text>
<rect x="462.8" y="287.7" width="4.8" height="4.6" fill="#55266f" stroke="#38184c" stroke-width="0.5"/>
<text x="471.2" y="292.6" font-size="8.4" text-anchor="start" font-weight="normal" fill="#222" stroke="#222" stroke-width="0.15" textLength="18.23" lengthAdjust="spacingAndGlyphs" >Bcl-2</text>
<text x="261.9" y="372.9" font-size="8.61" text-anchor="middle" font-weight="normal" fill="#222" stroke="#222" stroke-width="0.15" textLength="24.6" lengthAdjust="spacingAndGlyphs" >DMSO</text>
<text x="299.5" y="372.9" font-size="8.61" text-anchor="middle" font-weight="normal" fill="#222" stroke="#222" stroke-width="0.15" textLength="24.6" lengthAdjust="spacingAndGlyphs" >DMSO</text>
<text x="337.1" y="372.9" font-size="8.61" text-anchor="middle" font-weight="normal" fill="#222" stroke="#222" stroke-width="0.15" textLength="18.46" lengthAdjust="spacingAndGlyphs" >IBR+</text>
<text x="337.1" y="382.7" font-size="8.61" text-anchor="middle" font-weight="normal" fill="#222" stroke="#222" stroke-width="0.15" textLength="16.86" lengthAdjust="spacingAndGlyphs" >VEN</text>
<text x="374.7" y="372.9" font-size="8.61" text-anchor="middle" font-weight="normal" fill="#222" stroke="#222" stroke-width="0.15" textLength="20.5" lengthAdjust="spacingAndGlyphs" >BMS-</text>
<text x="374.7" y="382.7" font-size="8.61" text-anchor="middle" font-weight="normal" fill="#222" stroke="#222" stroke-width="0.15" textLength="29.0" lengthAdjust="spacingAndGlyphs" >345541</text>
<text x="412.3" y="372.9" font-size="8.61" text-anchor="middle" font-weight="normal" fill="#222" stroke="#222" stroke-width="0.15" textLength="23.7" lengthAdjust="spacingAndGlyphs" >Bortez</text>
<text x="449.90000000000003" y="372.9" font-size="8.61" text-anchor="middle" font-weight="normal" fill="#222" stroke="#222" stroke-width="0.15" textLength="20.5" lengthAdjust="spacingAndGlyphs" >BMS-</text>
<text x="449.90000000000003" y="382.7" font-size="8.61" text-anchor="middle" font-weight="normal" fill="#222" stroke="#222" stroke-width="0.15" textLength="34.6" lengthAdjust="spacingAndGlyphs" >345541+</text>
<text x="449.90000000000003" y="392.5" font-size="8.61" text-anchor="middle" font-weight="normal" fill="#222" stroke="#222" stroke-width="0.15" textLength="39.88" lengthAdjust="spacingAndGlyphs" >IBR + VEN</text>
<text x="487.50000000000006" y="372.9" font-size="8.61" text-anchor="middle" font-weight="normal" fill="#222" stroke="#222" stroke-width="0.15" textLength="30.77" lengthAdjust="spacingAndGlyphs" >Bortez +</text>
<text x="487.50000000000006" y="382.7" font-size="8.61" text-anchor="middle" font-weight="normal" fill="#222" stroke="#222" stroke-width="0.15" textLength="20.74" lengthAdjust="spacingAndGlyphs" >IBR +</text>
<text x="487.50000000000006" y="392.5" font-size="8.61" text-anchor="middle" font-weight="normal" fill="#222" stroke="#222" stroke-width="0.15" textLength="16.86" lengthAdjust="spacingAndGlyphs" >VEN</text>
<text x="0" y="0" font-size="8.4" text-anchor="middle" fill="#111" font-weight="normal" transform="translate(208.3,300.9) rotate(-90)" stroke="#111" stroke-width="0.3" textLength="68.2" lengthAdjust="spacingAndGlyphs">Anti-apoptotic protein</text>
<text x="0" y="0" font-size="8.4" text-anchor="middle" fill="#111" font-weight="normal" transform="translate(219,301) rotate(-90)" stroke="#111" stroke-width="0.3" textLength="74.6" lengthAdjust="spacingAndGlyphs">expression (fold change)</text>
<line x1="280.6" y1="359.5" x2="280.6" y2="401.5" stroke="#000" stroke-width="1.2" stroke-dasharray="3,1.6"/>
<line x1="512.9" y1="359.3" x2="512.9" y2="401.5" stroke="#000" stroke-width="1.2" stroke-dasharray="3,1.6"/>
<line x1="283.1" y1="395.9" x2="510.7" y2="395.9" stroke="#000" stroke-width="1.3" />
<text x="339.9" y="406.3" font-size="8.29" text-anchor="start" font-weight="normal" fill="#222" stroke="#222" stroke-width="0.15" textLength="110.9" lengthAdjust="spacingAndGlyphs" >Pre-incubation with agonist mix</text>
<text x="451.19999999999993" y="403.1" font-size="5.0" text-anchor="start" font-weight="bold" fill="#111" >#</text>
</svg>
</body></html>
